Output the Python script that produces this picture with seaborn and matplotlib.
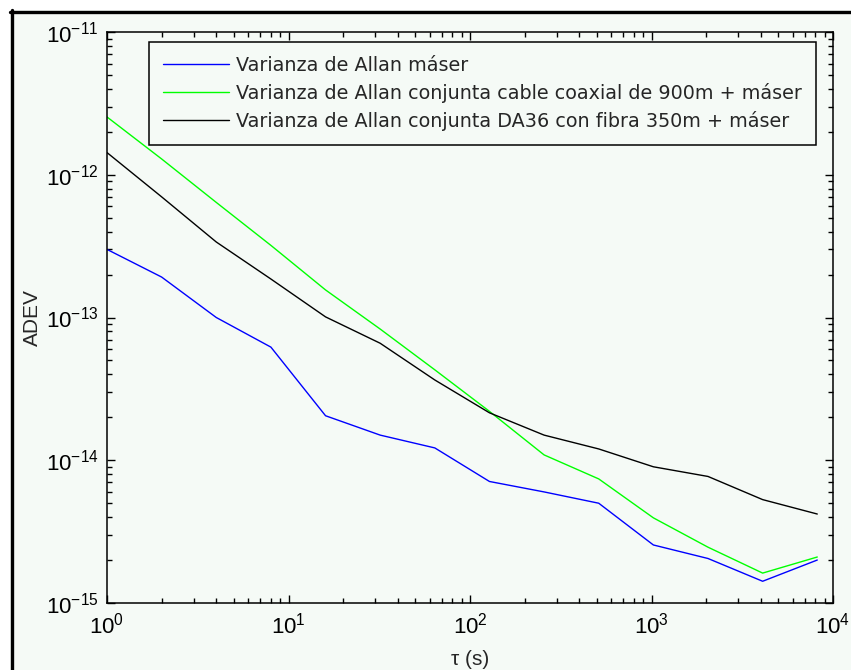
import matplotlib
matplotlib.use("Agg")
import matplotlib.pyplot as plt
import matplotlib.ticker as mticker
from matplotlib.lines import Line2D
from matplotlib.patches import Rectangle
import numpy as np
import pandas as pd
import seaborn as sns

# Allan deviation
tau = [1, 2, 4, 8, 16, 32, 64, 128, 256, 512, 1024, 2048, 4096, 8192]
adev_maser = [3.0e-13, 1.92e-13, 1.0e-13, 6.2e-14, 2.05e-14, 1.5e-14, 1.22e-14,
              7.1e-15, 6.0e-15, 5.0e-15, 2.55e-15, 2.05e-15, 1.42e-15, 2.0e-15]
adev_coax = [2.54e-12, 1.29e-12, 6.4e-13, 3.2e-13, 1.56e-13, 8.3e-14, 4.3e-14,
             2.2e-14, 1.09e-14, 7.4e-15, 3.95e-15, 2.46e-15, 1.62e-15, 2.1e-15]
adev_fibra = [1.43e-12, 7.0e-13, 3.38e-13, 1.86e-13, 1.01e-13, 6.6e-14, 3.65e-14,
              2.15e-14, 1.5e-14, 1.2e-14, 9.0e-15, 7.7e-15, 5.3e-15, 4.2e-15]

labels = [
    "Varianza de Allan máser",
    "Varianza de Allan conjunta cable coaxial de 900m + máser",
    "Varianza de Allan conjunta DA36 con fibra 350m + máser",
]
colors = ["#0000ff", "#00ff00", "#000000"]
x_major = [1, 10, 100, 1000, 10000]
y_major = [1e-15, 1e-14, 1e-13, 1e-12, 1e-11]

BG = "#f5faf6"

sns.set_style("ticks")
plt.rcParams["font.family"] = ["Liberation Sans", "DejaVu Sans"]
plt.rcParams["mathtext.fontset"] = "custom"
plt.rcParams["mathtext.rm"] = "Liberation Sans"
plt.rcParams["mathtext.it"] = "Liberation Sans"

df = pd.concat([
    pd.DataFrame({"tau": tau, "adev": vals, "serie": lab})
    for vals, lab in zip([adev_maser, adev_coax, adev_fibra], labels)
])

fig = plt.figure(figsize=(8.51, 6.70), dpi=100, facecolor=BG)
# white margin + black frame of the exported window (top and left only)
fig.add_artist(Rectangle((0, 0), 10 / 851, 1, transform=fig.transFigure,
                         facecolor="white", edgecolor="none", zorder=-10))
fig.add_artist(Rectangle((0, 1 - 10 / 670), 1, 10 / 670, transform=fig.transFigure,
                         facecolor="white", edgecolor="none", zorder=-10))
fx = 11.5 / 851
fy = 1 - 11.5 / 670
fig.add_artist(Line2D([fx, fx], [0, fy + 1.5 / 670], transform=fig.transFigure,
                      color="black", linewidth=2.4, zorder=-5))
fig.add_artist(Line2D([fx - 1.5 / 851, 1], [fy, fy], transform=fig.transFigure,
                      color="black", linewidth=2.4, zorder=-5))

ax = fig.add_axes([107 / 851, 1 - 603 / 670, 726 / 851, 571 / 670])
ax.set_facecolor(BG)

sns.lineplot(data=df, x="tau", y="adev", hue="serie", palette=colors,
             linewidth=1.0, ax=ax, legend=True)

ax.set_xscale("log")
ax.set_yscale("log")
ax.set_xlim(1, 1e4)
ax.set_ylim(1e-15, 1e-11)
ax.xaxis.set_major_locator(mticker.FixedLocator(x_major))
ax.yaxis.set_major_locator(mticker.FixedLocator(y_major))
ax.xaxis.set_major_formatter(mticker.LogFormatterSciNotation())
ax.yaxis.set_major_formatter(mticker.LogFormatterSciNotation())
ax.xaxis.set_minor_locator(mticker.LogLocator(base=10, subs=np.arange(2, 10)))
ax.yaxis.set_minor_locator(mticker.LogLocator(base=10, subs=np.arange(2, 10)))
ax.xaxis.set_minor_formatter(mticker.NullFormatter())
ax.yaxis.set_minor_formatter(mticker.NullFormatter())

ax.tick_params(which="both", direction="in", top=True, right=True,
               labelsize=16, width=1, colors="black")
ax.tick_params(which="major", length=6)
ax.tick_params(which="minor", length=3.5)
ax.tick_params(axis="x", which="major", pad=7)
ax.tick_params(axis="y", which="major", pad=6)
for sp in ax.spines.values():
    sp.set_linewidth(1.1)
    sp.set_color("black")

ax.set_xlabel("τ (s)", fontsize=15, labelpad=8)
ax.set_ylabel("ADEV", fontsize=15, labelpad=3)

leg = ax.legend(loc="upper right", bbox_to_anchor=(0.9766, 0.9825),
                borderaxespad=0, prop={"family": "DejaVu Sans", "size": 13.8},
                frameon=True, fancybox=False, handlelength=3.45,
                handletextpad=0.37, labelspacing=0.42, borderpad=0.73)
leg.get_frame().set_edgecolor("black")
leg.get_frame().set_linewidth(1.1)
leg.get_frame().set_facecolor(BG)
leg.get_frame().set_alpha(1)

fig.savefig("out.png", dpi=100, facecolor=fig.get_facecolor())
